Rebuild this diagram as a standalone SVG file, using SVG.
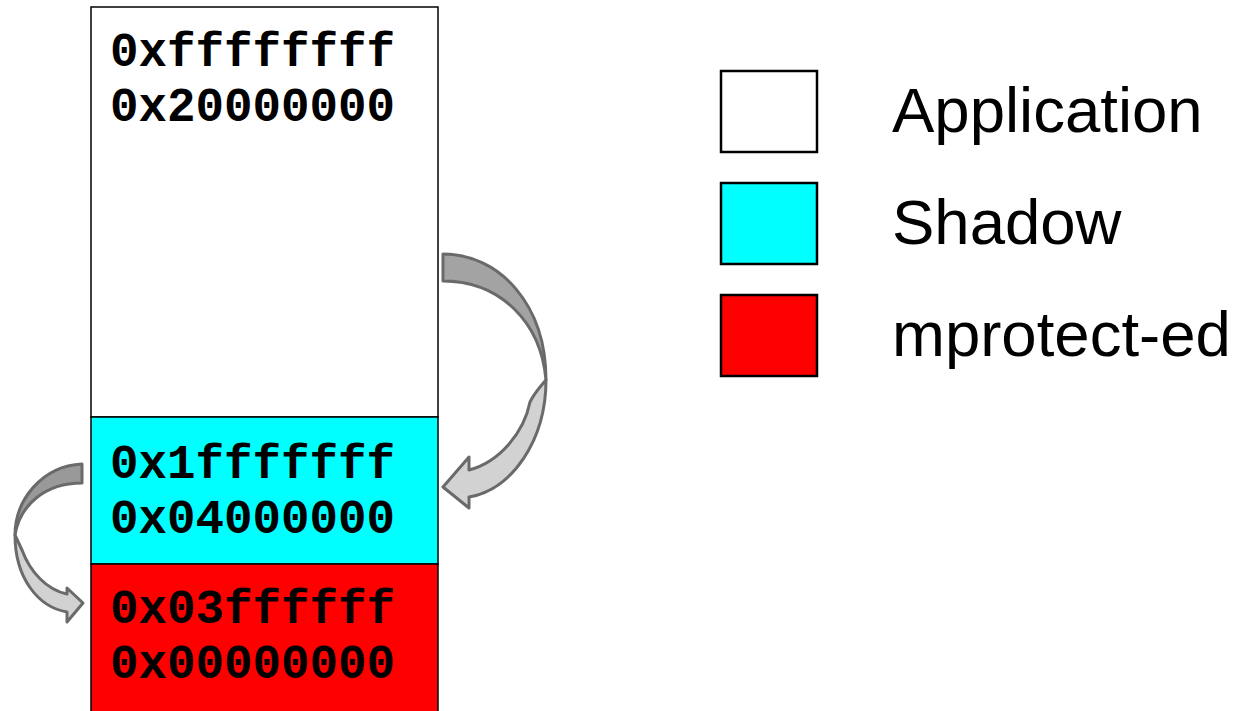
<svg xmlns="http://www.w3.org/2000/svg" width="1246" height="711" viewBox="0 0 1246 711">
<style>
.seg{stroke:#000;stroke-width:1.5}
.addr{font-family:"Liberation Mono","Courier New",monospace;font-weight:bold;font-size:47.5px;fill:#000}
.leg{stroke:#000;stroke-width:2.5}
.lt{font-family:"Liberation Sans",Arial,sans-serif;font-size:63.5px;fill:#000}
.arw{stroke:#6a6a6a;stroke-width:3;stroke-linejoin:round}
.dk{fill:#a3a3a3}
.li{fill:#d2d2d2}
</style>
<rect width="1246" height="711" fill="#fff"/>
<g id="app-region">
<rect class="seg" x="91" y="7" width="347" height="410" fill="#fff"/>
<text class="addr" x="110" y="66">0xffffffff</text>
<text class="addr" x="110" y="121">0x20000000</text>
</g>
<g id="shadow-region">
<rect class="seg" x="91" y="417" width="347" height="147" fill="#00ffff"/>
<text class="addr" x="110" y="478">0x1fffffff</text>
<text class="addr" x="110" y="533">0x04000000</text>
</g>
<g id="mprotect-region">
<rect class="seg" x="91" y="564" width="347" height="150" fill="#ff0000"/>
<text class="addr" x="110" y="623">0x03ffffff</text>
<text class="addr" x="110" y="678">0x00000000</text>
</g>
<g id="connectors">
<g id="arrow-app-to-shadow">
<path class="arw dk" d="M443,254 C500,254 546,305 546,380 C541,322 500,281 443,281 Z"/>
<path class="arw li" d="M546,380 C546,440 512,490 469,497 L469,508 L443,487 L469,457 L469,470 C500,462 524,432 530,402 C535,392 541,386 546,380 Z"/>
</g>
<g id="arrow-shadow-to-mprotect">
<path class="arw" fill="#999" d="M82,464 C42,466 15,500 15,535 C20,505 45,483 82,483 Z"/>
<path class="arw li" d="M15,535 C15,578 38,607 67,612 L67,622 L83,603 L67,588 L67,594 C47,590 30,572 22,550 Z"/>
</g>
</g>
<g id="legend-application">
<rect class="leg" x="721" y="71" width="96" height="81" fill="#fff"/>
<text class="lt" x="892" y="132">Application</text>
</g>
<g id="legend-shadow">
<rect class="leg" x="721" y="183" width="96" height="81" fill="#00ffff"/>
<text class="lt" x="892" y="244">Shadow</text>
</g>
<g id="legend-mprotect">
<rect class="leg" x="721" y="295" width="96" height="81" fill="#ff0000"/>
<text class="lt" x="892" y="356">mprotect-ed</text>
</g>
</svg>
